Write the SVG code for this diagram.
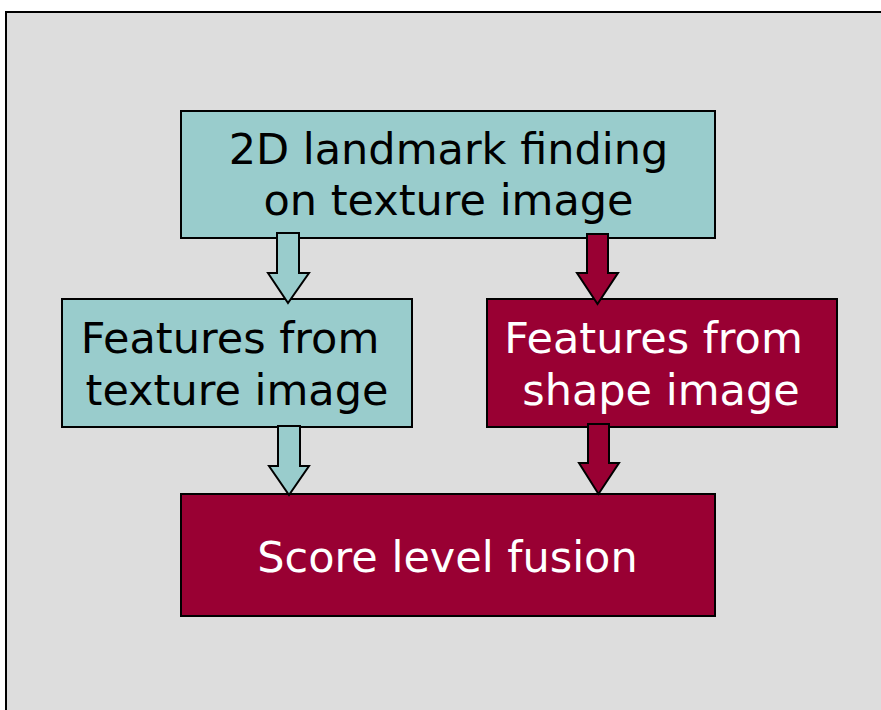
<svg xmlns="http://www.w3.org/2000/svg" width="881" height="710" viewBox="0 0 881 710">
  <style>
    .panel { fill: #dddddd; stroke: #000000; stroke-width: 2; }
    .box { stroke: #000000; stroke-width: 2; }
    .teal { fill: #99cccc; }
    .crimson { fill: #990033; }
    .arrow { stroke: #000000; stroke-width: 2; stroke-linejoin: miter; }
    text { font-family: "DejaVu Sans", Verdana, sans-serif; font-size: 43px; text-anchor: middle; }
    .dark { fill: #000000; }
    .light { fill: #ffffff; }
  </style>
  <rect x="0" y="0" width="881" height="710" fill="#ffffff"/>
  <rect class="panel" x="6" y="12" width="890" height="720"/>

  <g id="landmark-finding">
    <rect class="box teal" x="181" y="111" width="534" height="127"/>
    <text class="dark" x="448.5" y="164">2D landmark finding</text>
    <text class="dark" x="448.5" y="215">on texture image</text>
  </g>

  <g id="texture-features">
    <rect class="box teal" x="62" y="299" width="350" height="128"/>
    <text class="dark" x="230" y="353">Features from</text>
    <text class="dark" x="237" y="405">texture image</text>
  </g>

  <g id="shape-features">
    <rect class="box crimson" x="487" y="299" width="350" height="128"/>
    <text class="light" x="653.5" y="353">Features from</text>
    <text class="light" x="661" y="405">shape image</text>
  </g>

  <g id="score-fusion">
    <rect class="box crimson" x="181" y="494" width="534" height="122"/>
    <text class="light" x="447.5" y="572">Score level fusion</text>
  </g>

  <g id="connectors">
    <!-- block arrows: shaft then head, tip overlapping the target box edge -->
    <path class="arrow teal" d="M277,233 H299 V273 H309 L288,303 L268,273 H277 Z"/>
    <path class="arrow crimson" d="M587,234 H608 V273 H618 L597.5,304 L577,273 H587 Z"/>
    <path class="arrow teal" d="M278,426 H300 V466 H309 L289,495 L269,466 H278 Z"/>
    <path class="arrow crimson" d="M588,424 H609 V463 H619 L598.5,494 L579,463 H588 Z"/>
  </g>
</svg>
